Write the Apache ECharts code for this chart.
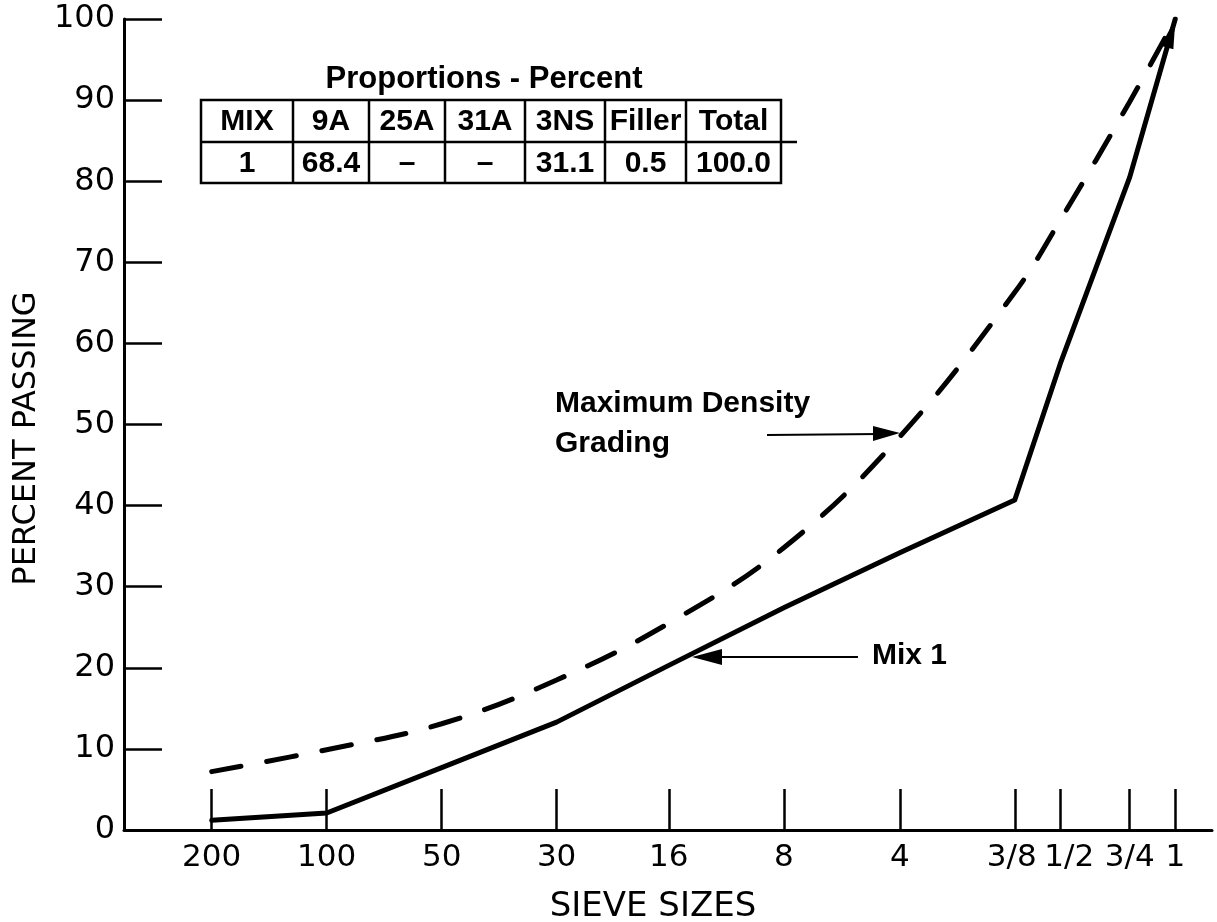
<!DOCTYPE html>
<html><head><meta charset="utf-8">
<script src="https://cdn.jsdelivr.net/npm/echarts@6/dist/echarts.min.js"></script>
<style>html,body{margin:0;padding:0;background:#fff}#c{width:1217px;height:922px}</style>
</head><body><div id="c"></div>
<script>
// ---- data ----
const sieveLabels = ['200','100','50','30','16','8','4','3/8','1/2','3/4','1'];
const sieveMM = [0.075,0.15,0.3,0.6,1.18,2.36,4.75,9.5,12.5,19,25];
const mix1Values = [1.2,2.1,7.7,13.3,20.3,27.4,34.2,40.7,57.5,80.5,100];
const maxDensityValues = [7.2,9.9,13.1,18.5,25.5,34.8,48.5,66.3,75.2,89.8,100];
const tableTitle = 'Proportions - Percent';
const tableHeader = ['MIX','9A','25A','31A','3NS','Filler','Total'];
const tableRow = ['1','68.4','–','–','31.1','0.5','100.0'];

// ---- layout ----
const tableCols = [201,293,369,445,525,605,686,781];
const tableTop = 100, tableMid = 142, tableBottom = 183, tableExt = 797;

const FONT_AX = '"DejaVu Sans", sans-serif';
const FONT_AN = '"Liberation Sans", Arial, sans-serif';

function labelFor(v){
  let best = 0, bd = Infinity;
  sieveMM.forEach((m,i)=>{ const d = Math.abs(Math.log(v) - Math.log(m)); if (d < bd){bd=d;best=i;} });
  return sieveLabels[best];
}

const mixData = sieveMM.map((m,i)=>{
  const item = {value:[m, mix1Values[i]]};
  if (i === sieveMM.length - 1) {
    item.symbol = 'triangle';
    item.symbolSize = [13, 30];
    item.symbolRotate = -16;
    item.symbolOffset = [-4, 14];
    item.itemStyle = {color:'#000'};
  }
  return item;
});
const mddData = sieveMM.map((m,i)=>[m, maxDensityValues[i]]);

const graphics = [];
// table
graphics.push({type:'text', x:484, y:79,
  style:{text:tableTitle, fontSize:31, fontWeight:'bold', fontFamily:FONT_AN, fill:'#000', align:'center', verticalAlign:'middle'}});
graphics.push({type:'rect', shape:{x:tableCols[0], y:tableTop, width:tableCols[tableCols.length-1]-tableCols[0], height:tableBottom-tableTop},
  style:{fill:'none', stroke:'#000', lineWidth:2.5}});
graphics.push({type:'line', shape:{x1:tableCols[0], y1:tableMid, x2:tableExt, y2:tableMid}, style:{stroke:'#000', lineWidth:2.5}});
for (let i=1;i<tableCols.length-1;i++){
  graphics.push({type:'line', shape:{x1:tableCols[i], y1:tableTop, x2:tableCols[i], y2:tableBottom}, style:{stroke:'#000', lineWidth:2.5}});
}
tableHeader.forEach((t,i)=>{
  graphics.push({type:'text', x:(tableCols[i]+tableCols[i+1])/2, y:(tableTop+tableMid)/2+1,
    style:{text:t, fontSize:30, fontWeight:'bold', fontFamily:FONT_AN, fill:'#000', align:'center', verticalAlign:'middle'}});
});
tableRow.forEach((t,i)=>{
  graphics.push({type:'text', x:(tableCols[i]+tableCols[i+1])/2, y:(tableMid+tableBottom)/2+1,
    style:{text:t, fontSize:30, fontWeight:'bold', fontFamily:FONT_AN, fill:'#000', align:'center', verticalAlign:'middle'}});
});
// annotations
graphics.push({type:'text', x:555, y:404, style:{text:'Maximum Density', fontSize:30, fontWeight:'bold', fontFamily:FONT_AN, fill:'#000', align:'left', verticalAlign:'middle'}});
graphics.push({type:'text', x:555, y:444, style:{text:'Grading', fontSize:30, fontWeight:'bold', fontFamily:FONT_AN, fill:'#000', align:'left', verticalAlign:'middle'}});
graphics.push({type:'line', shape:{x1:767, y1:435, x2:880, y2:434}, style:{stroke:'#000', lineWidth:2}});
graphics.push({type:'polygon', shape:{points:[[900,433],[873,426],[873,441]]}, style:{fill:'#000'}});
graphics.push({type:'text', x:872, y:656, style:{text:'Mix 1', fontSize:30, fontWeight:'bold', fontFamily:FONT_AN, fill:'#000', align:'left', verticalAlign:'middle'}});
graphics.push({type:'line', shape:{x1:858, y1:657, x2:715, y2:657}, style:{stroke:'#000', lineWidth:2}});
graphics.push({type:'polygon', shape:{points:[[692,657],[722,649],[722,665]]}, style:{fill:'#000'}});

const chart = echarts.init(document.getElementById('c'), null, {renderer:'canvas'});
chart.setOption({
  animation:false,
  backgroundColor:'#fff',
  grid:{left:124, right:5, top:19, bottom:92, containLabel:false, outerBoundsMode:'none'},
  xAxis:{
    type:'log', logBase:2, min:0.0442, max:31.2,
    name:'SIEVE SIZES', nameLocation:'middle', nameGap:60,
    nameTextStyle:{fontSize:34, fontFamily:FONT_AX, color:'#000', padding:[0,30,0,0]},
    axisLine:{show:true, lineStyle:{color:'#000', width:3, cap:'round'}},
    axisTick:{show:true, inside:true, length:41, customValues:sieveMM, lineStyle:{color:'#000', width:2.5}},
    minorTick:{show:false},
    axisLabel:{show:true, customValues:sieveMM, hideOverlap:false, margin:12, fontSize:31, fontFamily:FONT_AX, color:'#000',
      formatter:(v)=>{ const l = labelFor(v); return l === '1/2' ? '{s|'+l+'}' : (l === '3/8' ? '{t|'+l+'}' : l); },
      rich:{s:{fontSize:31, fontFamily:FONT_AX, color:'#000', padding:[0,0,0,18]},
            t:{fontSize:31, fontFamily:FONT_AX, color:'#000', padding:[0,6,0,0]}}},
    splitLine:{show:false}
  },
  yAxis:{
    type:'value', min:0, max:100, interval:10,
    name:'PERCENT PASSING', nameLocation:'middle', nameGap:80, nameRotate:90,
    nameTextStyle:{fontSize:32, fontFamily:FONT_AX, color:'#000', padding:[0,28,0,0]},
    axisLine:{show:true, lineStyle:{color:'#000', width:3}},
    axisTick:{show:true, inside:true, length:38, lineStyle:{color:'#000', width:2.5}},
    axisLabel:{margin:9, fontSize:32, fontFamily:FONT_AX, color:'#000'},
    splitLine:{show:false}
  },
  series:[
    {name:'Mix 1', type:'line', data:mixData, showSymbol:true, symbol:'none',
      lineStyle:{color:'#000', width:5, cap:'round', join:'round'}, itemStyle:{color:'#000'}, z:3},
    {name:'Maximum Density Grading', type:'line', data:mddData, symbol:'none', smooth:0.4,
      lineStyle:{color:'#000', width:5, type:[30,26], cap:'round'}, z:2}
  ],
  graphic:graphics
});
</script></body></html>
